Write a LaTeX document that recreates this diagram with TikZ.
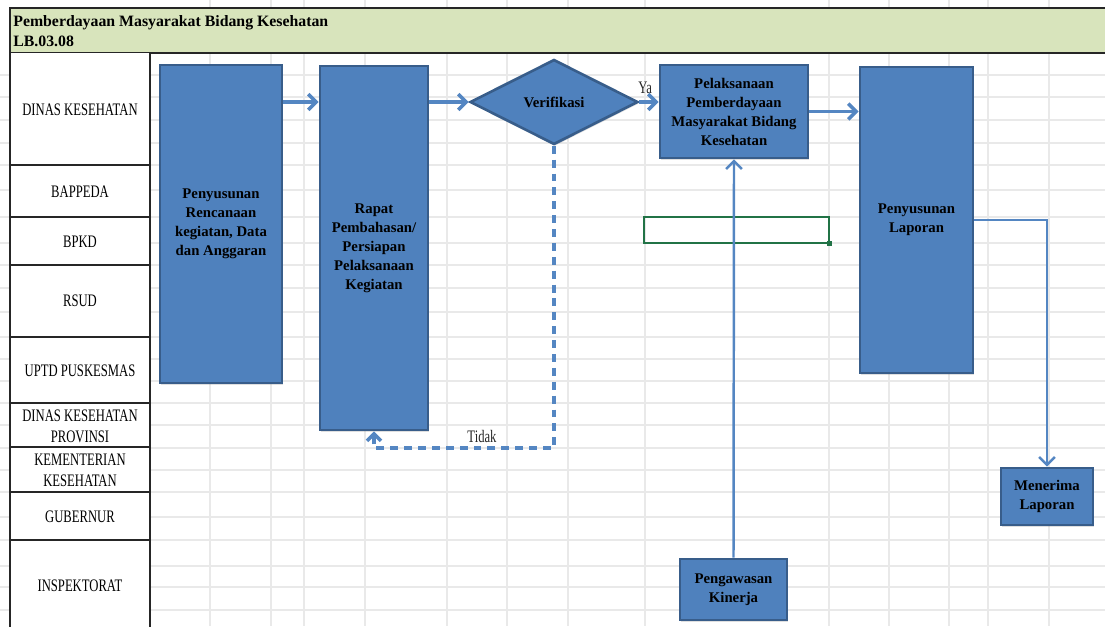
\documentclass[tikz,border=0pt]{standalone}
\usepackage{fontspec}
\setmainfont{Liberation Serif}
\newfontfamily\lanefont[FakeStretch=0.72]{Liberation Serif}
\usetikzlibrary{shapes.geometric,arrows.meta,shadows}
\definecolor{procblue}{RGB}{79,129,189}
\definecolor{procedge}{RGB}{56,93,138}
\definecolor{flowblue}{RGB}{84,134,194}
\definecolor{headgreen}{RGB}{216,228,188}
\definecolor{cellgreen}{RGB}{33,115,70}
\definecolor{gridgray}{RGB}{233,233,233}

\begin{document}
\begin{tikzpicture}[x=0.02cm, y=-0.02cm,
    gridline/.style={gridgray, line width=0.6pt},
    laneline/.style={black!85, line width=0.9pt},
    lane/.style={font=\lanefont\fontsize{10}{12}\selectfont, align=center, inner sep=0pt},
    proc/.style={rectangle, draw=procedge, line width=1.5pt, fill=procblue, align=center,
        font=\bfseries\fontsize{8.4}{10.8}\selectfont, inner sep=2pt,
        drop shadow={opacity=0.25, shadow xshift=0.7pt, shadow yshift=-0.9pt}},
    decide/.style={diamond, draw=procedge, line width=1.5pt, fill=procblue, inner sep=0pt,
        font=\bfseries\fontsize{8.4}{10.8}\selectfont,
        drop shadow={opacity=0.25, shadow xshift=0.7pt, shadow yshift=-0.9pt}},
    flow/.style={flowblue, line width=2pt, -{Straight Barb[length=4.5pt, width=9pt]}},
    thinflow/.style={flowblue, line width=1.4pt, -{Straight Barb[length=4.5pt, width=9pt]}},
    backflow/.style={flowblue, line width=2pt, dash pattern=on 4.5pt off 3.4pt,
        -{Straight Barb[length=4pt, width=8pt]}},
    flowlabel/.style={text=black!85, font=\lanefont\fontsize{10}{12}\selectfont, inner sep=2pt}]

    \useasboundingbox (0,0) rectangle (1105,626);

    % Spreadsheet grid
    \foreach \gx in {210,271,304,365,447,507,568,645,829,889,949,988,1049}
        \draw[gridline] (\gx,0) -- (\gx,626);
    \foreach \gy in {75,97,120,143,165,190,217,243,265,288,312,337,359,381,403,425,448,470,492,517,540,566,587,610}
        \draw[gridline] (0,\gy) -- (1105,\gy);

    % Header
    \fill[headgreen] (10,8) rectangle (1110,53);
    \draw[black!85, line width=1pt] (1110,8) -- (10,8) -- (10,53) -- (1110,53);
    \node[font=\bfseries\fontsize{9}{11.3}\selectfont, align=left, anchor=west, inner sep=0pt]
        (title) at (13,31) {Pemberdayaan Masyarakat Bidang Kesehatan\\LB.03.08};

    % Lanes
    \fill[white] (10,53) rectangle (150,630);
    \draw[laneline] (10,53) -- (10,630);
    \draw[laneline] (150,53) -- (150,630);
    \foreach \ly in {165,217,265,337,403,447,492,540}
        \draw[laneline] (10,\ly) -- (150,\ly);
    \node[lane] (dinkes) at (80,110) {DINAS KESEHATAN};
    \node[lane] (bappeda) at (80,192) {BAPPEDA};
    \node[lane] (bpkd) at (80,242) {BPKD};
    \node[lane] (rsud) at (80,301) {RSUD};
    \node[lane] (uptd) at (80,371) {UPTD PUSKESMAS};
    \node[lane] (dinprov) at (80,426) {DINAS KESEHATAN\\PROVINSI};
    \node[lane] (kemenkes) at (80,470) {KEMENTERIAN\\KESEHATAN};
    \node[lane] (gubernur) at (80,517) {GUBERNUR};
    \node[lane] (inspektorat) at (80,586) {INSPEKTORAT};

    % Process boxes
    \node[proc, minimum width=2.44cm, minimum height=6.36cm] (rencana) at (221,224)
        {Penyusunan\\Rencanaan\\kegiatan, Data\\dan Anggaran};
    \node[proc, minimum width=2.16cm, minimum height=7.28cm] (rapat) at (374,248)
        {Rapat\\Pembahasan/\\Persiapan\\Pelaksanaan\\Kegiatan};
    \node[decide, minimum width=3.36cm, minimum height=1.7cm] (verif) at (554,102) {Verifikasi};
    \node[proc, minimum width=2.96cm, minimum height=1.86cm] (laksana) at (734,111.5)
        {Pelaksanaan\\Pemberdayaan\\Masyarakat Bidang\\Kesehatan};
    \node[proc, minimum width=2.26cm, minimum height=6.12cm] (laporan) at (916.5,220)
        {Penyusunan\\Laporan};
    \node[proc, minimum width=1.84cm, minimum height=1.14cm] (terima) at (1047,496.5)
        {Menerima\\Laporan};
    \node[proc, minimum width=2.14cm, minimum height=1.22cm] (awas) at (733.5,589.5)
        {Pengawasan\\Kinerja};

    % Selected cell
    \node[draw=cellgreen, line width=1pt, minimum width=3.7cm, minimum height=0.52cm, inner sep=0pt]
        (cellsel) at (736.5,230) {};
    \fill[cellgreen] (cellsel.south east) ++(-2.5,-2.5) rectangle ++(5,5);

    % Connectors
    \draw[flow] (rencana.east |- verif.west) -- (rapat.west |- verif.west);
    \draw[flow] (rapat.east |- verif.west) -- (verif.west);
    \draw[flow] (verif.east) -- node[flowlabel, above, pos=0.3, inner sep=4pt] {Ya} (laksana.west |- verif.east);
    \draw[flow] (laksana.east) -- (laporan.west |- laksana.east);
    \draw[thinflow] (laporan.east) -| (terima.north);
    \draw[thinflow] (awas.north) -- (laksana.south);
    \coordinate (tidakturn) at (554,448);
    \draw[backflow] (verif.south) -- (tidakturn) -| node[flowlabel, pos=0.2, above] {Tidak} (rapat.south);
\end{tikzpicture}
\end{document}
